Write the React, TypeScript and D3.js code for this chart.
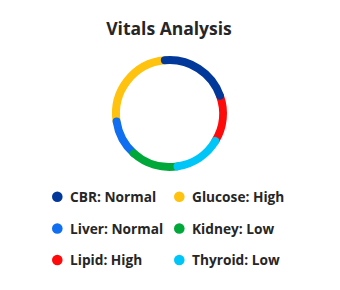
import React from "react";
import * as d3 from "d3";

const categories = ["CBR", "Lipid", "Thyroid", "Kidney", "Liver", "Glucose"];
const values = [21, 14, 14, 14, 11, 26];
const statuses = ["Normal", "High", "Low", "Low", "Normal", "High"];
const colors = ["#023899", "#ff0a0a", "#00c6f8", "#00a83a", "#0f6ff0", "#ffc20e"];
// drawing order (later on top)
const drawOrder = ["Glucose", "Lipid", "Liver", "Kidney", "Thyroid", "CBR"];
const legendOrder = ["CBR", "Glucose", "Liver", "Kidney", "Lipid", "Thyroid"];

const W = 340, H = 290;
const cx = 169.5, cy = 113.5, rMid = 53.5, thick = 8;

export default function App() {
  const pie = d3.pie<number>().sort(null).value(d => d)
    .startAngle(-5 * Math.PI / 180).endAngle(355 * Math.PI / 180);
  const arcs = pie(values);
  const color = d3.scaleOrdinal<string, string>().domain(categories).range(colors);

  const arcPath = (a0: number, a1: number) => {
    const p = d3.path();
    p.arc(0, 0, rMid, a0 - Math.PI / 2, a1 - Math.PI / 2);
    return p.toString();
  };

  const colX = [57.3, 179.3];
  const rowY = [196.7, 228.5, 260];

  return (
    <svg width={W} height={H} style={{ position: "absolute", left: 0, top: 0, background: "#fff" }}
      fontFamily="'Open Sans', sans-serif">
      <text x={169} y={35} textAnchor="middle" fontSize={17.5} fontWeight={700} fill="#262626">Vitals Analysis</text>
      <g transform={`translate(${cx},${cy})`}>
        {drawOrder.map(name => {
          const i = categories.indexOf(name);
          const a = arcs[i];
          return <path key={name} d={arcPath(a.startAngle, a.endAngle)} fill="none"
            stroke={color(name)} strokeWidth={thick} strokeLinecap="round" />;
        })}
      </g>
      {legendOrder.map((name, k) => {
        const i = categories.indexOf(name);
        const x = colX[k % 2], y = rowY[Math.floor(k / 2)];
        return (
          <g key={name}>
            <circle cx={x} cy={y} r={5.3} fill={color(name)} />
            <text x={x + 12.7} y={y + 5} fontSize={13.7} fontWeight={700} fill="#262626">
              {`${name}: ${statuses[i]}`}
            </text>
          </g>
        );
      })}
    </svg>
  );
}
